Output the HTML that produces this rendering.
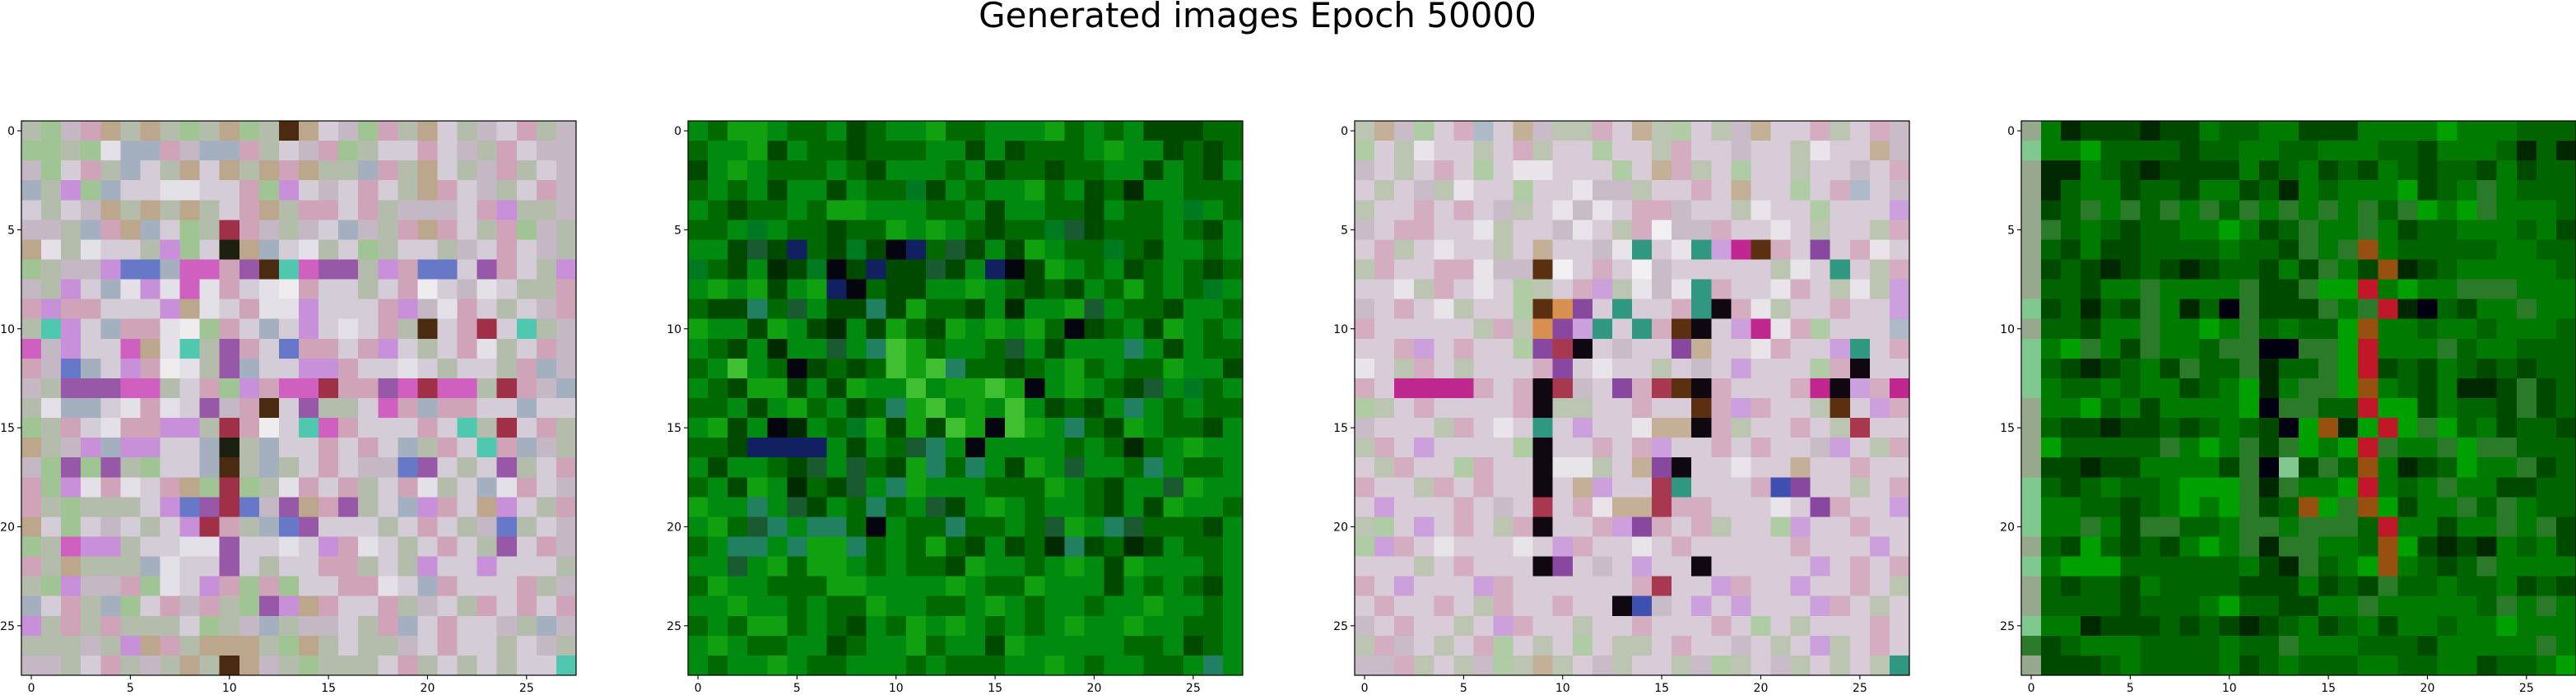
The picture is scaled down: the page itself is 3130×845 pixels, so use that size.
<!DOCTYPE html>
<html><head><meta charset="utf-8">
<style>
html,body{margin:0;padding:0;background:#fff;}
svg{display:block;font-family:"DejaVu Sans","Liberation Sans",sans-serif;}
</style></head>
<body>
<svg id="fig" width="3130" height="845" viewBox="0 0 3130 845" xmlns="http://www.w3.org/2000/svg">
<rect width="3130" height="845" fill="#fff"/>
<text x="1528" y="33" font-size="42" text-anchor="middle" fill="#000">Generated images Epoch 50000</text>
</svg>
<script>
// ---- data ----
const tickValues = [0, 5, 10, 15, 20, 25];
const tickLabels = ["0", "5", "10", "15", "20", "25"];

const palette1 = {a:"#c4b8c4",b:"#d4ccd6",c:"#b4bcac",d:"#d0a4b8",e:"#e4e0e8",f:"#a4b0c0",g:"#bca68c",h:"#a0c494",m:"#d060c0",k:"#1c2010",p:"#9858a8",r:"#a03048",t:"#50c8b0",u:"#6878c8",w:"#eeecee",n:"#4a2a10",v:"#c890d8"};
const image1 = [
"chadgcgchcghcngbahdcgbcabdca",
"hhcheffdaffdcbadhcbbdbacdbaa",
"ahbdcfbcgbgcgdgccfdcgbcadcba",
"fcvhfbbeebbdhvbabdbcgdbacbda",
"bcbagcgcgcbdgcddbdcaaabdvcca",
"aacfdgfbhcrdacabfacdgdbcdhac",
"gecebbcvhbkgfbecbhcbbcabdbac",
"hcaavuufmmdpntmppcvduubpdbcv",
"acvbfevemedbewdbbcbdwbaebccd",
"dvddbbbvgebdeevbbbdvaedbcbad",
"ctvbfddewhdbfbvbebdcnbdrbtca",
"mavbbmgetcpdbuddbdvbcbdecbda",
"daufbvdwecpfbbvvdbbebcbbcdfa",
"acpppmmcbdhvdmmrddpmrmmcrdaf",
"ceffbedebpadnbpccbmdfddbbfbb",
"hcdbeddvvcrdwbtmdbbbdbtcrbdc",
"gcavfvvbbfkcfbbdbdbfcdbtdfac",
"ahphpchbbfncfcbdbaaupbcbpcbd",
"dhvedebdghrhcedbdcbdecbfedba",
"dchcccbvupruapgdpcbfvdbgvbcd",
"gbhbabcbvrdcfupbbbcbdbcaucba",
"hcmvvcbbeepbbebvdebcbdbcpbda",
"dcgcccfebbpbcbbddcbcvbbvbbbc",
"chvaadhebvdhdhbbddebfdbbbdca",
"fbdcfhbdadchpvgdbbdcabcdbdbd",
"vcdcdcccbhcafcaabcdfbdbbacfa",
"cccacvgdcgggchgcbccabdbbcbac",
"aacbdcacgcngachcccbdcbcbcbbt"
];

const palette2 = {a:"#006a00",b:"#008a10",c:"#004a00",d:"#10a010",e:"#002a00",k:"#05050f",n:"#102060",t:"#208060",l:"#40c030",f:"#1a5a30",g:"#007a20"};
const image2 = [
"baddbaabcabbdaabbbdababcccaa",
"abbdcbaacaaabbcbcaaabdbbcaca",
"cbdbaaabacbbbabcaacaabbcbacb",
"ababcbbcbaagcbabbdabcaebbaaa",
"bacaabaddbbbaabcbbaacbaabgba",
"aabgbaacaadbdbacaagfcaaabacb",
"bbcfcnacgcknafcbcdbaagacbbab",
"gacbecgkcnccfcbnkcdbabcabaca",
"bdbdcbdnkaccbbdbacacbadabagb",
"acctafbcctcdaacbebbdfbaacbba",
"dbbcdbcebcdacdbdbdakcabcdbab",
"bacbebbfbtldabbafbcbbbtbcbaa",
"ablbakcacaldltaacabdabaadbbc",
"bacddcbcdbblbddldkbdbacfbgab",
"aabcbdabcatdlbdblbcacbtbabaa",
"bdcbkebagdcdcldkldbtacdbaacb",
"aacnnnnbcbaftbkbbbbabaeabdbb",
"bcbbacfbfacdtatbcdbfbbatbaab",
"abcdbeacfbtdbbbaaadbacbbfdbb",
"dbbtbfcbatabfcbdbabbacbcdbba",
"bdaftbttakbaataabafdbtfaaacb",
"abttbtddtabadacbcaetcaecbaab",
"bbfbdaddbabaacdbbabdbcdbbbab",
"adbbaaaddbbbbdbaadbbbcbabacb",
"bbdbbabaadbbaabdbabbabbdbbab",
"abaddabacbadbdbababdbbdbbaab",
"bdbaabbcabbdabbcdbbbbbaabcab",
"babbdbaabbbabaaabbdbabbaabtb"
];

const palette3 = {a:"#c8bcc8",b:"#d8ccd8",c:"#bcc4b2",d:"#d4aec0",e:"#e8e4ea",f:"#aebac8",g:"#c4b096",h:"#b0cca4",m:"#c02890",k:"#100810",p:"#8848a0",r:"#a83850",t:"#309880",u:"#4050b0",n:"#5a3010",v:"#cca0dc",w:"#f2f0f2",o:"#d89050"};
const image3 = [
"cgahbdfbgaccdbgchbcagbbdcbda",
"hbcebbcbdcbbhbbcdbbabbcebbga",
"abcbdbhbeebbbhbgdcbhbbcbbabd",
"bcbacebbhbbeaacbbdbgbbhbdfba",
"cbbdbdbacbeaebddabbcebbhbbbv",
"abddbbecbbaebcdwaadbbebcbbcd",
"bdcbebbcbgbbaetbetvmndbpbdeb",
"cdbbddeaanwbdbwabbbbbcebtbcd",
"bbecdbebhcbdvceaetdbbedbcecv",
"abdbecbbhnopbtbbdtkdecbbdbbv",
"dbbbbbcdcopvtbtdnkbvmedhbbbf",
"bbdvbdbbhprkbabbpgbbedbbvtbd",
"ebcdbcbbbdpbebbcbabvbbbhdkbb",
"dbmmmmdbdkrabpdrnkdbbbdmkvdm",
"hcbdbbbbdkccbbdbbndvdbbcnbvd",
"abbbcdbebtbvbbeggkdcbbdbcrbb",
"cdbvbbbbhkbbdbdvbbdbdbbavbcd",
"bcdbbhdbbkeecbgpkbbebbgbbdbb",
"dbbcdbdbbkbgvbbrtbbbdupbbcbd",
"bvbbbdbabrbdeggrddbbbebpdbbv",
"chbvbdbcdkbbdvpdbdcbbhvbbdbb",
"hvdbebbbebvdbbebdbbbbbdbbbvb",
"bbbcbdbbbkpbabvbbkbbbbbvbdbd",
"dbvbbbvdbbbbbbdrbbvdbbvbbdbc",
"bdbbdbcdbbdbbkuabvbvbbbvdbcb",
"abdbbcbvdbbcbbdbbbdbhbcbbbdb",
"cdabcbdhbcbhbccbdbbabcbvcbdb",
"aadcbcahcgcbacbbcahcbacbcbct"
];

const palette4 = {a:"#006400",b:"#007a00",c:"#004a00",d:"#00a000",e:"#002800",g:"#98a88e",h:"#80c890",r:"#c01828",o:"#985010",k:"#000010",s:"#2a7a2a"};
const image4 = [
"gbeccceccbaabbcccbbbbdbbbaaa",
"hbbdaaaacaabbaabbbaacbbbaeae",
"geebaceccccbcabcacbacaacbcaa",
"geabbcaacbbcaebabbbdcabsbaaa",
"gcasbsasbsasbsbsbsasdbdsbbba",
"gsabacaabbdbcasbbsbcaabbbabc",
"gacbccaaaabaacsbsobaaaaabbaa",
"gcacecacecaacbcsbcoecabbbbba",
"gaacbbsbbbbsccsddrbdbbsssbbb",
"hcaeacsbeakscccsbsrekacbbsbb",
"gaacbbsbbdbsabaadobbabbabbba",
"hbdsbcsbbasskkssdrbbbsabbaaa",
"hacecabcsaaseaasdrcacbacacaa",
"hbaababbcabdebssdobacbeecsca",
"gbbdabcbbbbdkssaarddcbaacsca",
"gacceccacabackdoedrdsdabcaac",
"gdaaaaasbdbscsdbdrsbbsdssaaa",
"gcceccbbbbcskhcsaobecadbbsca",
"hacabaabdddsesbbdrbabsbbccaa",
"hbbaacabdbdscaodsodcbbsasbaa",
"hbbsbcssaabssbsssarbbcbbsbsc",
"gacdacacbdbsessbbaodcecebabc",
"hbdddaaaaaabcesabdobacasbbbb",
"gacaacbaaaacccbcacsaabaabcac",
"gaaaacaaabdaaccbbsbbbbbasbsb",
"hbbecccacacecabcabcbbabbdbbb",
"scabbbaaaabaasbbbaaacbbbbbsb",
"gcccabaaaabcabaaabbaabbcaabd"
];

// ---- layout ----
const NS = "http://www.w3.org/2000/svg";
const svg = document.getElementById("fig");
const panelLefts = [26, 836, 1646, 2456];
const panelTop = 147;
const panelSize = 674;
const N = 28;
const cell = panelSize / N;

function mk(tag, attrs, parent) {
  const el = document.createElementNS(NS, tag);
  for (const k in attrs) el.setAttribute(k, attrs[k]);
  parent.appendChild(el);
  return el;
}

function drawPanel(idx, rows, pal) {
  const left = panelLefts[idx];
  const xScale = v => left + v * cell;
  const yScale = v => panelTop + v * cell;
  const g = mk("g", {"shape-rendering": "crispEdges"}, svg);
  
  
  for (let r = 0; r < N; r++) {
    let row = (rows[r] || "").padEnd(N, "a").slice(0, N);
    for (let c = 0; c < N; c++) {
      const col = pal[row[c]] || pal.a;
      const rc = mk("rect", {x: xScale(c), y: yScale(r), width: cell + 0.6, height: cell + 0.6, fill: col}, g);
      
      
    }
  }
  const frame = mk("rect", {x: left, y: panelTop, width: panelSize, height: panelSize, fill: "none", stroke: "#000", "stroke-width": 1.2}, svg);
  
  
  const bottom = panelTop + panelSize;
  tickValues.forEach((v, i) => {
    const xc = xScale(v + 0.5);
    const yc = yScale(v + 0.5);
    const xt = mk("line", {x1: xc, y1: bottom, x2: xc, y2: bottom + 5, stroke: "#000", "stroke-width": 1.1}, svg);
    
    
    const xl = mk("text", {x: xc, y: bottom + 20, "font-size": 14, "text-anchor": "middle", fill: "#000"}, svg);
    
    
    xl.textContent = tickLabels[i];
    const yt = mk("line", {x1: left - 5, y1: yc, x2: left, y2: yc, stroke: "#000", "stroke-width": 1.1}, svg);
    
    
    const yl = mk("text", {x: left - 8, y: yc + 5, "font-size": 14, "text-anchor": "end", fill: "#000"}, svg);
    
    
    yl.textContent = tickLabels[i];
  });
}

drawPanel(0, image1, palette1);
drawPanel(1, image2, palette2);
drawPanel(2, image3, palette3);
drawPanel(3, image4, palette4);
</script>
</body></html>
